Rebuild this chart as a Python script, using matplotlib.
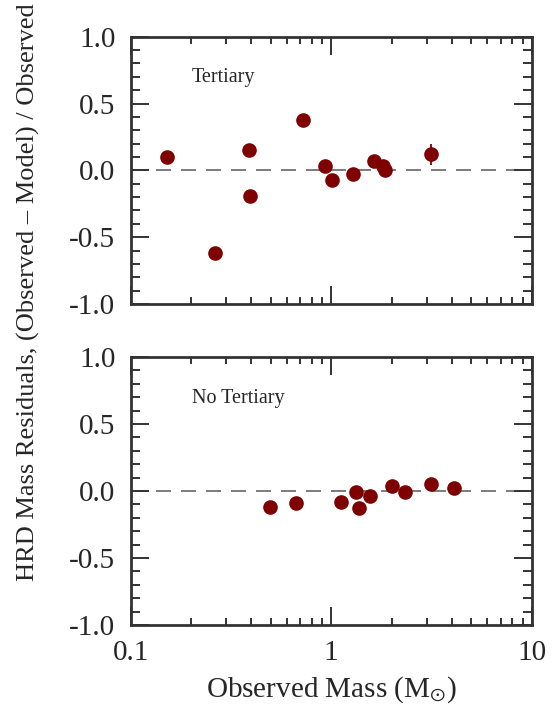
import numpy as np
import matplotlib
matplotlib.use('Agg')
import matplotlib.pyplot as plt
from matplotlib.ticker import LogLocator, FixedFormatter, FixedLocator, MultipleLocator

plt.rcParams['font.family'] = ['Liberation Serif', 'DejaVu Serif']
plt.rcParams['mathtext.fontset'] = 'stix'

# systems with a tertiary companion
mass_tert = [0.152, 0.262, 0.387, 0.394, 0.725, 0.930, 1.004, 1.278, 1.632, 1.817, 1.853, 3.153]
resid_tert = [0.10, -0.62, 0.15, -0.19, 0.38, 0.03, -0.07, -0.03, 0.07, 0.03, 0.00, 0.12]
err_tert = [0, 0, 0, 0, 0, 0, 0, 0, 0, 0, 0, 0.08]

# systems without a tertiary
mass_notert = [0.496, 0.669, 1.122, 1.328, 1.379, 1.559, 2.015, 2.330, 3.153, 4.075]
resid_notert = [-0.12, -0.09, -0.08, -0.01, -0.13, -0.04, 0.04, -0.01, 0.05, 0.02]

yticks = [-1.0, -0.5, 0.0, 0.5, 1.0]
ytick_labels = ['-1.0', '-0.5', '0.0', '0.5', '1.0']
xticks = [0.1, 1, 10]
xtick_labels = ['0.1', '1', '10']

panels = [
    (mass_tert, resid_tert, err_tert, 'Tertiary'),
    (mass_notert, resid_notert, None, 'No Tertiary'),
]

W, H = 559, 706
fig = plt.figure(figsize=(W / 100, H / 100), dpi=100)

frame_col = '#333333'
text_col = '#262626'
dot_col = '#7f0000'

ax_boxes = [
    [130.7 / W, 1 - 304 / H, 401 / W, 267.3 / H],
    [130.7 / W, 1 - 625 / H, 401 / W, 268 / H],
]

for i, (m, r, e, name) in enumerate(panels):
    ax = fig.add_axes(ax_boxes[i])
    ax.set_xscale('log')
    ax.set_xlim(0.1, 10)
    ax.set_ylim(-1.0, 1.0)

    ax.axhline(0, color='#666666', lw=1.2, ls=(0, (9, 6)), zorder=1)
    if e is not None:
        ax.errorbar(m, r, yerr=e, fmt='o', color=dot_col, ms=9.5,
                    elinewidth=1.3, capsize=0, zorder=3)
    else:
        ax.plot(m, r, 'o', color=dot_col, ms=9.5, zorder=3)

    ax.text(0.152, 0.846, name, transform=ax.transAxes,
            fontsize=14.5, color=text_col, va='center', ha='left')

    ax.yaxis.set_major_locator(FixedLocator(yticks))
    ax.yaxis.set_major_formatter(FixedFormatter(ytick_labels))
    ax.yaxis.set_minor_locator(MultipleLocator(0.1))

    ax.xaxis.set_major_locator(FixedLocator(xticks))
    ax.xaxis.set_minor_locator(LogLocator(base=10, subs=np.arange(2, 10)))
    ax.xaxis.set_minor_formatter(plt.NullFormatter())

    ax.tick_params(axis='both', which='both', direction='in', top=True, right=True,
                   color=frame_col, width=1.4, labelcolor=text_col, labelsize=21)
    ax.tick_params(axis='both', which='major', length=13, pad=11)
    ax.tick_params(axis='y', which='minor', length=6.5)
    ax.tick_params(axis='x', which='minor', length=5.3)

    for s in ax.spines.values():
        s.set_color(frame_col)
        s.set_linewidth(2.0)

    if i == 0:
        ax.xaxis.set_major_formatter(plt.NullFormatter())
    else:
        ax.xaxis.set_major_formatter(FixedFormatter(xtick_labels))
        ax.set_xlabel(r'Observed Mass (M$_{\odot}$)', fontsize=21, color=text_col,
                      labelpad=6)

fig.text(28 / W, 1 - 292 / H, 'HRD Mass Residuals, (Observed \u2013 Model) / Observed',
         rotation=90, ha='center', va='center', fontsize=19, color=text_col)

fig.savefig('out.png', dpi=100)
